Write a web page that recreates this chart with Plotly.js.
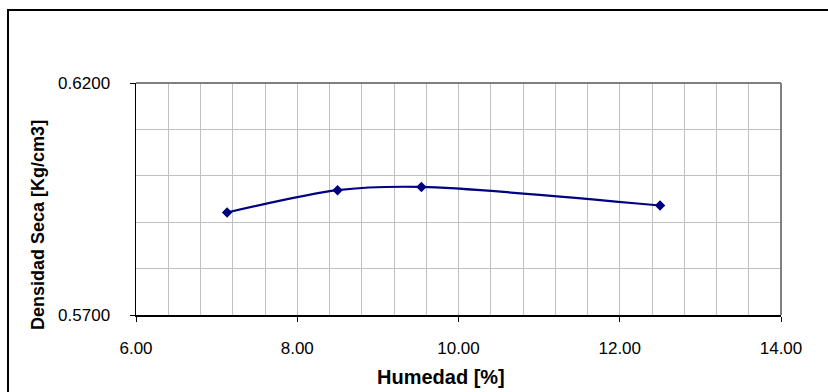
<!DOCTYPE html>
<html>
<head>
<meta charset="utf-8">
<script src="https://cdn.plot.ly/plotly-3.0.1.min.js"></script>
<style>
  html, body { margin: 0; padding: 0; background: #ffffff; }
  #wrap { position: relative; width: 828px; height: 392px; overflow: hidden; }
  #chart { position: absolute; left: 0; top: 0; width: 828px; height: 392px; }
  #frame { position: absolute; left: 7px; top: 9px; width: 900px; height: 500px;
           border-left: 2px solid #000; border-top: 2px solid #000; pointer-events: none; }
</style>
</head>
<body>
<div id="wrap">
  <div id="chart"></div>
  <div id="frame"></div>
</div>
<script>
const humedad = [7.13, 8.50, 9.54, 12.50];
const densidad = [0.5921, 0.5969, 0.5976, 0.5936];
const xTitle = 'Humedad [%]';
const yTitle = 'Densidad Seca [Kg/cm3]';

const trace = {
  x: humedad,
  y: densidad,
  type: 'scatter',
  mode: 'lines+markers',
  line: { color: '#000080', width: 2.2, shape: 'spline', smoothing: 0.8 },
  marker: { symbol: 'diamond', size: 8, color: '#000080' },
  hoverinfo: 'skip'
};

const tickFont = { family: 'Liberation Sans, Arial, sans-serif', size: 17, color: '#000' };
const titleFontBold = { family: 'Liberation Sans, Arial, sans-serif', color: '#000', weight: 'bold' };

const layout = {
  width: 828, height: 392,
  margin: { l: 136, r: 47, t: 83, b: 77 },
  paper_bgcolor: 'rgba(0,0,0,0)',
  plot_bgcolor: '#ffffff',
  showlegend: false,
  xaxis: {
    range: [6, 14], dtick: 2, tick0: 6, tickformat: '.2f',
    showgrid: true, gridcolor: '#c0c0c0', gridwidth: 1,
    minor: { dtick: 0.4, showgrid: true, gridcolor: '#c0c0c0', gridwidth: 1, ticks: '' },
    showline: true, linecolor: '#000', linewidth: 1.5,
    ticks: 'outside', ticklen: 5, tickcolor: '#000', tickwidth: 1,
    ticklabelstandoff: 12,
    tickfont: tickFont, zeroline: false, fixedrange: true
  },
  yaxis: {
    range: [0.57, 0.62], dtick: 0.05, tick0: 0.57, tickformat: '.4f',
    showgrid: true, gridcolor: '#c0c0c0', gridwidth: 1,
    minor: { dtick: 0.01, showgrid: true, gridcolor: '#c0c0c0', gridwidth: 1, ticks: '' },
    showline: true, linecolor: '#000', linewidth: 1.5,
    ticks: 'outside', ticklen: 5, tickcolor: '#000', tickwidth: 1,
    ticklabelstandoff: 16,
    tickfont: tickFont, zeroline: false, fixedrange: true
  },
  shapes: [
    { type: 'line', xref: 'paper', yref: 'paper', x0: 0, x1: 1, y0: 1, y1: 1,
      line: { color: '#808080', width: 2 } },
    { type: 'line', xref: 'paper', yref: 'paper', x0: 1, x1: 1, y0: 0, y1: 1,
      line: { color: '#808080', width: 2 } }
  ],
  annotations: [
    { text: xTitle, xref: 'paper', yref: 'paper', x: 0.473, y: -0.267,
      xanchor: 'center', yanchor: 'middle', showarrow: false,
      font: Object.assign({ size: 20 }, titleFontBold) },
    { text: yTitle, xref: 'paper', yref: 'paper', x: -0.152, y: 0.388,
      xanchor: 'center', yanchor: 'middle', showarrow: false, textangle: -90,
      font: Object.assign({ size: 18 }, titleFontBold) }
  ]
};

Plotly.newPlot('chart', [trace], layout, { displayModeBar: false, staticPlot: true });
</script>
</body>
</html>
